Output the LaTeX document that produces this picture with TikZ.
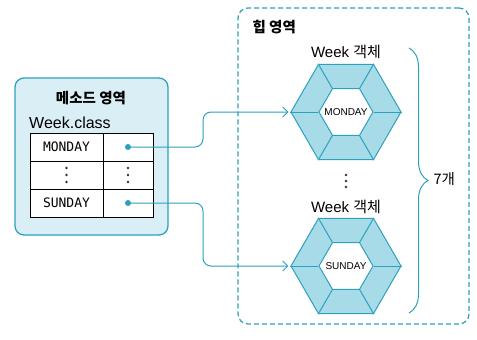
\documentclass[tikz,border=0pt]{standalone}
\usepackage{fontspec}
\setmainfont{Liberation Sans}
\newfontfamily\kr{Noto Sans CJK KR}
\newfontfamily\mono{DejaVu Sans Mono}
\usetikzlibrary{shapes.geometric,arrows.meta,decorations.pathreplacing}
\definecolor{arealine}{RGB}{45,160,190}
\definecolor{areafill}{RGB}{218,239,245}
\definecolor{hexfill}{RGB}{168,219,232}

\begin{document}
\begin{tikzpicture}[x=1pt,y=-1pt,
        hexout/.style={regular polygon,regular polygon sides=6,minimum size=110pt,
            inner sep=0pt,draw=arealine,fill=hexfill,line width=1pt},
        hexin/.style={regular polygon,regular polygon sides=6,minimum size=54pt,
            inner sep=0pt,draw=arealine,fill=white,line width=1pt},
        cell/.style={draw,fill=white,line width=0.9pt,minimum height=28pt,inner sep=0pt,
            outer sep=0pt,font=\mono\fontsize{13}{13}\selectfont},
        refdot/.style={circle,fill=arealine,inner sep=0pt,minimum size=6pt},
        dotmark/.style={circle,fill=black!80,inner sep=0pt,minimum size=2.6pt},
        title/.style={font=\kr\bfseries\fontsize{14.5}{14.5}\selectfont},
        objname/.style={font=\fontsize{15}{15}\selectfont},
        link/.style={draw=arealine,line width=1pt,rounded corners=8pt,shorten >=2pt,
            -{Straight Barb[length=5pt,width=10pt]}}]

                \useasboundingbox (0,0) rectangle (477,340);

                % method area
                \node[draw=arealine,fill=areafill,line width=1.3pt,rounded corners=9pt,
                    minimum width=153pt,minimum height=157pt] (methodarea) at (91.5,156.5) {};
                \node[title] (methodtitle) at (91,98) {메소드 영역};
                \node[font=\fontsize{16}{16}\selectfont,anchor=west,inner sep=0pt] (classname)
                    at (29,123) {Week.class};

                \node[cell,minimum width=73pt] (mon) at (66.5,147) {MONDAY};
                \node[cell,minimum width=50pt] (monref) at (128,147) {};
                \node[cell,minimum width=73pt] (midL) at (66.5,175) {};
                \node[cell,minimum width=50pt] (midR) at (128,175) {};
                \node[cell,minimum width=73pt] (sun) at (66.5,203) {SUNDAY};
                \node[cell,minimum width=50pt] (sunref) at (128,203) {};
                \node[refdot] (mdot) at (monref.center) {};
                \node[refdot] (sdot) at (sunref.center) {};
                \foreach \dy in {-7,0,7} {
                    \node[dotmark] at ([yshift=\dy pt]midL.center) {};
                    \node[dotmark] at ([yshift=\dy pt]midR.center) {};
                }

                % heap area
                \node[draw=arealine,dash pattern=on 5pt off 3pt,line width=1.2pt,rounded corners=10pt,
                    minimum width=231pt,minimum height=316pt] (heaparea) at (353.5,166) {};
                \node[title,anchor=west] (heaptitle) at (249,27) {힙 영역};

                \node[objname] (monobj) at (346,52) {Week {\kr 객체}};
                \node[hexout] (hexM) at (346,112) {};
                \node[hexin] (hexMin) at (hexM.center) {};
                \foreach \i in {1,...,6}
                    \draw[arealine,line width=1pt] (hexM.corner \i) -- (hexMin.corner \i);
                \node[font=\fontsize{10}{10}\selectfont] (monlabel) at (hexM.center) {MONDAY};

                \coordinate (heapdots) at (346,181);
                \foreach \dy in {-6,0,6}
                    \node[dotmark] at ([yshift=\dy pt]heapdots) {};

                \node[objname] (sunobj) at (346,207) {Week {\kr 객체}};
                \node[hexout] (hexS) at (346,266) {};
                \node[hexin] (hexSin) at (hexS.center) {};
                \foreach \i in {1,...,6}
                    \draw[arealine,line width=1pt] (hexS.corner \i) -- (hexSin.corner \i);
                \node[font=\fontsize{10}{10}\selectfont] (sunlabel) at (hexS.center) {SUNDAY};

                % brace
                \coordinate (bracetop) at (409,48);
                \coordinate (bracebot) at (409,313);
                \draw[arealine,line width=1pt,decorate,decoration={brace,amplitude=19pt}]
                    (bracetop) -- (bracebot);
                \node[font=\kr\fontsize{14.5}{14.5}\selectfont,anchor=west] (count) at (430,179) {7개};

                % references
                \coordinate (bend) at (203,0);
                \draw[link] (mdot.center) -- (mdot.center -| bend) |- (hexM.west);
                \draw[link] (sdot.center) -- (sdot.center -| bend) |- (hexS.west);
            \end{tikzpicture}
\end{document}
